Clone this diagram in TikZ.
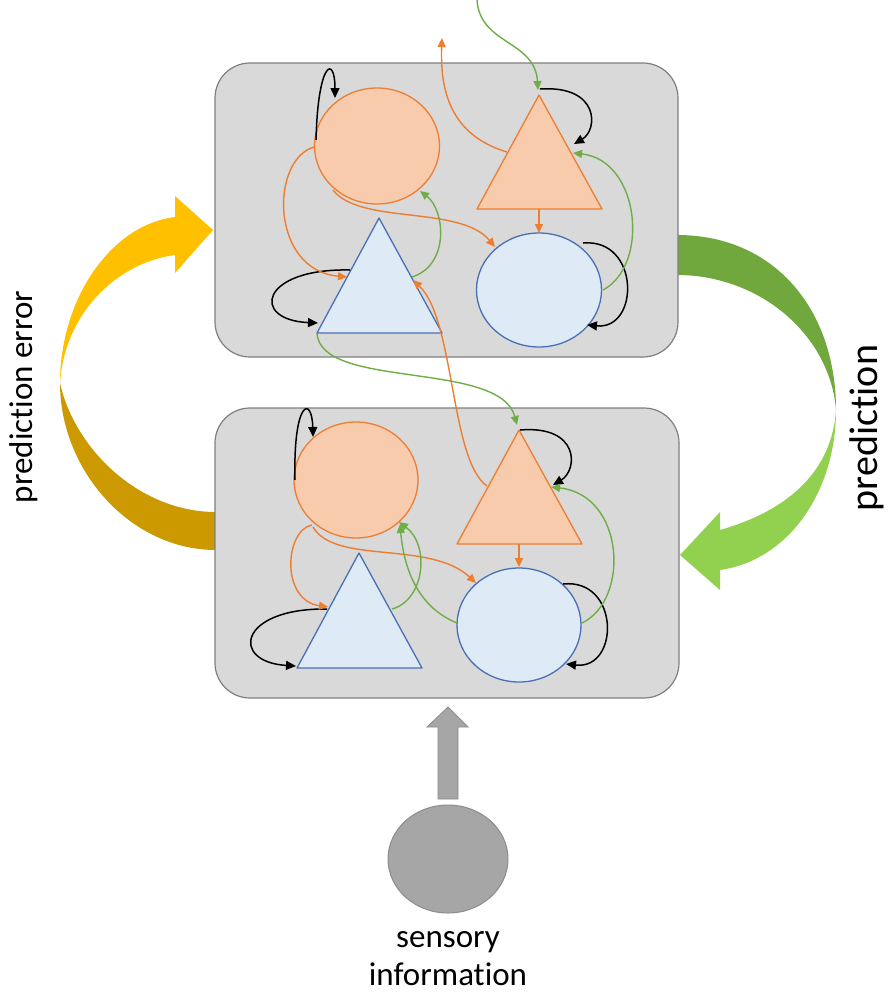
\documentclass[tikz,border=0pt]{standalone}
\usepackage{fontspec}
\setmainfont[Ligatures=NoCommon]{Carlito}
\usetikzlibrary{arrows.meta,shapes.geometric}
\definecolor{boxfill}{HTML}{D9D9D9}
\definecolor{boxline}{HTML}{7F7F7F}
\definecolor{orfill}{HTML}{F8CBAD}
\definecolor{orline}{HTML}{ED7D31}
\definecolor{blfill}{HTML}{DEEBF7}
\definecolor{blline}{HTML}{4A6FB5}
\definecolor{grline}{HTML}{70AD47}
\definecolor{ylight}{HTML}{FFC000}
\definecolor{ydark}{HTML}{CC9A00}
\definecolor{gdark}{HTML}{70A83E}
\definecolor{glight}{HTML}{92D050}
\definecolor{sensgray}{HTML}{A6A6A6}
\definecolor{sensline}{HTML}{8C8C8C}
\begin{document}
\begin{tikzpicture}[x=1pt,y=-1pt,
  layerbox/.style={draw=boxline,fill=boxfill,line width=1.2pt,rounded corners=35pt,inner sep=0pt},
  oval/.style={ellipse,inner sep=0pt},
  orshape/.style={fill=orfill,draw=orline,line width=1.3pt,line join=round},
  blshape/.style={fill=blfill,draw=blline,line width=1.3pt,line join=round},
  blk/.style={draw=black,line width=1.5pt,-{Triangle[length=10pt,width=9pt]}},
  org/.style={draw=orline,line width=1.4pt,-{Triangle[length=9pt,width=8pt]}},
  grn/.style={draw=grline,line width=1.4pt,-{Triangle[length=9pt,width=8pt]}},
  lbl/.style={font=\fontsize{33}{40}\selectfont,inner sep=0pt},
  biglbl/.style={font=\fontsize{40}{48}\selectfont,inner sep=0pt}
]
\useasboundingbox (0,0) rectangle (891,996);

% ---- big curved arrows (behind the boxes)
\fill[ylight] (60,383) .. controls (60,300) and (110,225) .. (175,217) -- (175,196) -- (213,230) -- (175,273) -- (175,255) .. controls (120,262) and (65,310) .. (60,383) -- cycle;
\fill[ydark] (60,383) .. controls (75,450) and (140,512) .. (216,512) -- (216,550) .. controls (130,550) and (60,470) .. (60,383) -- cycle;
\fill[gdark] (677,235) .. controls (775,235) and (836,310) .. (836,410) .. controls (830,335) and (760,275) .. (677,275) -- cycle;
\fill[glight] (836,410) .. controls (836,490) and (790,560) .. (720,570) -- (720,590) -- (680,555) -- (720,512) -- (720,530) .. controls (790,510) and (832,470) .. (836,410) -- cycle;

% ---- layer boxes
\node[layerbox,minimum width=463pt,minimum height=294pt] (topbox) at (446.5,210) {};
\node[layerbox,minimum width=464pt,minimum height=290pt] (botbox) at (447,553) {};

% ---- top layer shapes
\node[oval,orshape,minimum width=125pt,minimum height=116pt] (Toc) at (377,146) {};
\draw[orshape] (477,209) coordinate (TotL) -- (602,209) coordinate (TotR) -- (539,95) coordinate (TotA) -- cycle;
\draw[blshape] (317,333) coordinate (TbtL) -- (442,333) coordinate (TbtR) -- (379,218) coordinate (TbtA) -- cycle;
\node[oval,blshape,minimum width=125pt,minimum height=114pt] (Tbc) at (539,290) {};

% ---- bottom layer shapes
\node[oval,orshape,minimum width=124pt,minimum height=116pt] (Boc) at (356,480) {};
\draw[orshape] (457,544) coordinate (BotL) -- (582,544) coordinate (BotR) -- (519,430) coordinate (BotA) -- cycle;
\draw[blshape] (297,668) coordinate (BbtL) -- (422,668) coordinate (BbtR) -- (359,553) coordinate (BbtA) -- cycle;
\node[oval,blshape,minimum width=124pt,minimum height=114pt] (Bbc) at (519,625) {};

% ---- connector end points, top layer
\coordinate (Tas) at (316,140); \coordinate (Tae) at (335,98);
\coordinate (Tbs) at (540,89);  \coordinate (Tbe) at (574,144);
\coordinate (Tcs) at (350,270); \coordinate (Tce) at (318,323);
\coordinate (Tds) at (583,243); \coordinate (Tde) at (587,325);
\coordinate (Tes) at (314,147); \coordinate (Tee) at (347,277);
\coordinate (Tfs) at (333,190); \coordinate (Tfe) at (495,247);
\coordinate (Tgs) at (507,152); \coordinate (Tge) at (442,38);
\coordinate (Ths) at (539,209); \coordinate (The) at (539,233);
\coordinate (Tis) at (477,0);   \coordinate (Tie) at (538,90);
\coordinate (Tjs) at (603,290); \coordinate (Tje) at (573,153);
\coordinate (Tks) at (412,277); \coordinate (Tke) at (420,191);
\coordinate (Tls) at (487,486); \coordinate (Tle) at (413,280);
\coordinate (Tms) at (317,333); \coordinate (Tme) at (517,425);

% ---- connector end points, bottom layer
\coordinate (Bas) at (295,480); \coordinate (Bae) at (313,437);
\coordinate (Bbs) at (520,430); \coordinate (Bbe) at (553,485);
\coordinate (Bcs) at (327,609); \coordinate (Bce) at (296,666);
\coordinate (Bds) at (563,584); \coordinate (Bde) at (566,664);
\coordinate (Bes) at (312,525); \coordinate (Bee) at (328,607);
\coordinate (Bfs) at (313,527); \coordinate (Bfe) at (476,583);
\coordinate (Bgs) at (519,544); \coordinate (Bge) at (519,567);
\coordinate (Bhs) at (392,609); \coordinate (Bhe) at (399,522);
\coordinate (Bis) at (457,623); \coordinate (Bie) at (400,524);
\coordinate (Bjs) at (582,623); \coordinate (Bje) at (551,487);

% ---- top layer connectors
\draw[blk] (Tas) .. controls (318,60) and (335,55) .. (Tae);
\draw[blk] (Tbs) .. controls (600,85) and (598,130) .. (Tbe);
\draw[blk] (Tcs) .. controls (260,268) and (250,320) .. (Tce);
\draw[blk] (Tds) .. controls (640,238) and (640,330) .. (Tde);
\draw[org] (Tes) .. controls (270,160) and (270,270) .. (Tee);
\draw[org] (Tfs) .. controls (360,225) and (460,205) .. (Tfe);
\draw[org] (Tgs) .. controls (450,135) and (440,90) .. (Tge);
\draw[org] (Ths) -- (The);
\draw[grn] (Tis) .. controls (480,45) and (535,40) .. (Tie);
\draw[grn] (Tjs) .. controls (650,265) and (640,160) .. (Tje);
\draw[grn] (Tks) .. controls (450,265) and (445,210) .. (Tke);
\draw[org] (Tls) .. controls (450,460) and (455,320) .. (Tle);
\draw[grn] (Tms) .. controls (320,390) and (500,360) .. (Tme);

% ---- bottom layer connectors
\draw[blk] (Bas) .. controls (293,400) and (312,395) .. (Bae);
\draw[blk] (Bbs) .. controls (580,425) and (578,470) .. (Bbe);
\draw[blk] (Bcs) .. controls (238,608) and (230,662) .. (Bce);
\draw[blk] (Bds) .. controls (620,578) and (620,670) .. (Bde);
\draw[org] (Bes) .. controls (285,530) and (280,600) .. (Bee);
\draw[org] (Bfs) .. controls (335,565) and (430,540) .. (Bfe);
\draw[org] (Bgs) -- (Bge);
\draw[grn] (Bhs) .. controls (425,600) and (430,545) .. (Bhe);
\draw[grn] (Bis) .. controls (425,610) and (405,580) .. (Bie);
\draw[grn] (Bjs) .. controls (630,600) and (625,495) .. (Bje);

% ---- sensory input
\node[oval,fill=sensgray,draw=sensline,line width=1pt,minimum width=120pt,minimum height=108pt] (sens) at (448,859) {};
\draw[fill=sensgray,draw=sensline,line width=0.8pt,line join=miter] (438,799) -- (438,727) -- (427,727) -- (448,707) -- (468,727) -- (458,727) -- (458,799) -- cycle;

% ---- labels
\node[lbl,rotate=90] (perr) at (24,397) {prediction error};
\node[biglbl,rotate=90] (pred) at (867,428) {prediction};
\node[lbl,anchor=base] (sens1) at (448,947) {sensory};
\node[lbl,anchor=base] (sens2) at (448,985) {information};
\end{tikzpicture}
\end{document}
